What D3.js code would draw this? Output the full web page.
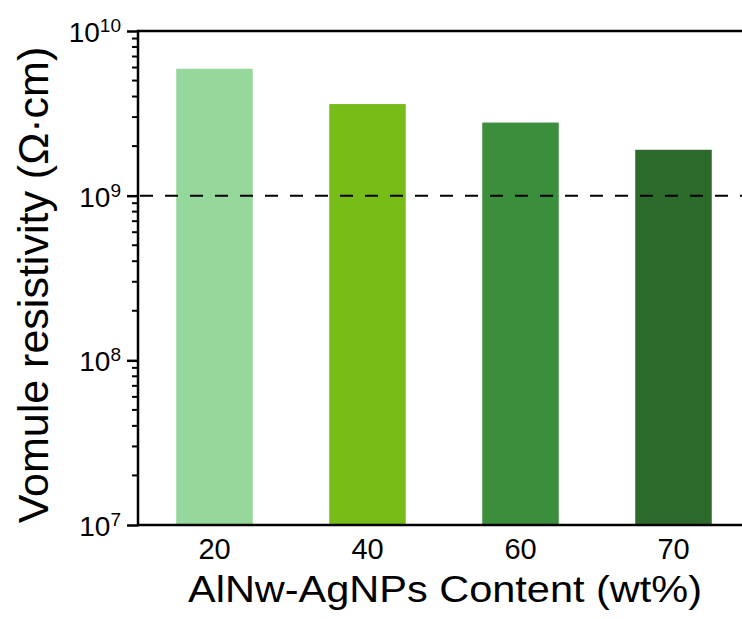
<!DOCTYPE html>
<html>
<head>
<meta charset="utf-8">
<script src="https://cdn.jsdelivr.net/npm/d3@7"></script>
<style>
  body { margin: 0; background: #fff; }
  text { font-family: "Liberation Sans", Arial, sans-serif; fill: #000; }
</style>
</head>
<body>
<div id="chart"></div>
<script>
// data
const contents = ["20", "40", "60", "70"];
const resistivity = [5.9e9, 3.6e9, 2.78e9, 1.9e9];
const barColors = ["#96d89b", "#78bd17", "#3b8f3c", "#2c6a2b"];
const yTicks = [1e7, 1e8, 1e9, 1e10];
const threshold = 1e9;

const W = 742, H = 619;
const plotL = 138, plotR = 742, plotT = 31, plotB = 525;

const svg = d3.select("#chart").append("svg").attr("width", W).attr("height", H);

const x = d3.scaleBand().domain(contents).range([plotL, 750]).paddingInner(0.5).paddingOuter(0.25);
const y = d3.scaleLog().domain([1e7, 1e10]).range([plotB, plotT]);

// bars
svg.selectAll("rect.bar").data(contents).enter().append("rect")
  .attr("class", "bar")
  .attr("x", d => x(d))
  .attr("width", x.bandwidth())
  .attr("y", (d, i) => y(resistivity[i]))
  .attr("height", (d, i) => plotB - y(resistivity[i]))
  .attr("fill", (d, i) => barColors[i]);

// dashed reference line
svg.append("line")
  .attr("x1", plotL + 2).attr("x2", plotR)
  .attr("y1", y(threshold)).attr("y2", y(threshold))
  .attr("stroke", "#000").attr("stroke-width", 2)
  .attr("stroke-dasharray", "13,12");

// left axis with log minor ticks, ticks pointing out
const yAxis = d3.axisLeft(y).tickValues(yTicks).tickSize(11).tickFormat("");
const gy = svg.append("g").attr("transform", `translate(${plotL},0)`).call(yAxis);
gy.select(".domain").remove();
gy.selectAll(".tick line").attr("stroke-width", 2.5);

const minor = [];
for (let e = 7; e < 10; e++) for (let m = 2; m <= 9; m++) minor.push(m * Math.pow(10, e));
svg.append("g").selectAll("line").data(minor).enter().append("line")
  .attr("x1", plotL - 6).attr("x2", plotL)
  .attr("y1", d => y(d)).attr("y2", d => y(d))
  .attr("stroke", "#000").attr("stroke-width", 2);

// tick labels as 10^n
const lab = svg.append("g").selectAll("text").data(yTicks).enter().append("text")
  .attr("x", 121).attr("y", d => y(d) + 11)
  .attr("text-anchor", "end").style("font-size", "28px");
lab.append("tspan").text("10");
lab.append("tspan").attr("dy", -10).style("font-size", "19px")
  .text(d => Math.round(Math.log10(d)));

// frame lines
svg.append("line").attr("x1", plotL).attr("x2", plotL).attr("y1", plotT - 1.25).attr("y2", plotB + 1.25)
  .attr("stroke", "#000").attr("stroke-width", 2.5);
svg.append("line").attr("x1", plotL).attr("x2", plotR).attr("y1", plotT).attr("y2", plotT)
  .attr("stroke", "#000").attr("stroke-width", 2.5);

// bottom axis, no tick marks
const gx = svg.append("g").attr("transform", `translate(0,${plotB})`)
  .call(d3.axisBottom(x).tickSize(0).tickPadding(13));
gx.select(".domain").remove();
gx.attr("font-family", null).attr("font-size", null);
gx.selectAll("text").style("font-size", "29px");
svg.append("line").attr("x1", plotL).attr("x2", plotR).attr("y1", plotB).attr("y2", plotB)
  .attr("stroke", "#000").attr("stroke-width", 2.5);

// axis titles
svg.append("text")
  .attr("x", 445).attr("y", 602)
  .attr("text-anchor", "middle")
  .attr("textLength", 514).attr("lengthAdjust", "spacingAndGlyphs")
  .style("font-size", "37px")
  .text("AlNw-AgNPs Content (wt%)");

svg.append("text")
  .attr("transform", "translate(48,285) rotate(-90)")
  .attr("text-anchor", "middle")
  .style("font-size", "43px")
  .text("Vomule resistivity (Ω·cm)");
</script>
</body>
</html>
